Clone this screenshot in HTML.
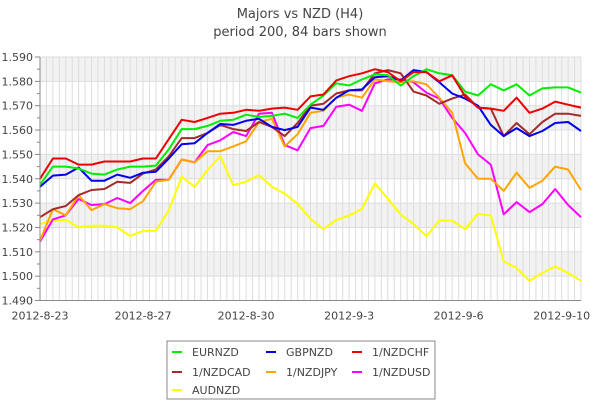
<!DOCTYPE html>
<html><head><meta charset="utf-8"><style>
body{margin:0;background:#fff;width:600px;height:400px;overflow:hidden}
svg text{font-family:"DejaVu Sans","Liberation Sans",sans-serif;fill:#444}
</style></head><body>
<svg id="chart" width="600" height="400" xmlns="http://www.w3.org/2000/svg">
<text x="300" y="18" text-anchor="middle" font-size="13">Majors vs NZD (H4)</text>
<text x="300" y="36" text-anchor="middle" font-size="13">period 200, 84 bars shown</text>
<g id="grid"></g>
<g id="series"></g>
<g id="axes"></g>
<g>
<rect x="167" y="341" width="268" height="58" fill="#fff" stroke="#888" stroke-width="1"/>
<g><rect x="172" y="351" width="10" height="2" fill="#00ee00"/><text x="192" y="356" font-size="11">EURNZD</text></g>
<g><rect x="266" y="351" width="10" height="2" fill="#0000ee"/><text x="286" y="356" font-size="11">GBPNZD</text></g>
<g><rect x="352" y="351" width="10" height="2" fill="#ee0000"/><text x="372" y="356" font-size="11">1/NZDCHF</text></g>
<g><rect x="172" y="371" width="10" height="2" fill="#a52a2a"/><text x="192" y="376" font-size="11">1/NZDCAD</text></g>
<g><rect x="266" y="371" width="10" height="2" fill="#ffa500"/><text x="286" y="376" font-size="11">1/NZDJPY</text></g>
<g><rect x="352" y="371" width="10" height="2" fill="#ff00ff"/><text x="372" y="376" font-size="11">1/NZDUSD</text></g>
<g><rect x="172" y="389" width="10" height="2" fill="#ffff00"/><text x="192" y="394" font-size="11">AUDNZD</text></g>
</g>
</svg>
<script>
const yTicks = [1.590,1.580,1.570,1.560,1.550,1.540,1.530,1.520,1.510,1.500,1.490];
const xTickLabels = ["2012-8-23","2012-8-27","2012-8-30","2012-9-3","2012-9-6","2012-9-10"];
const xTickBars = [0,16,32,48,65,81];
const totalBars = 84;
const barStep = 2;
const eurnzd = [1.5375,1.5450,1.5450,1.5442,1.5421,1.5417,1.5438,1.5450,1.5450,1.5454,1.5521,1.5604,1.5604,1.5617,1.5638,1.5642,1.5663,1.5654,1.5658,1.5667,1.5650,1.5704,1.5742,1.5792,1.5783,1.5808,1.5829,1.5825,1.5783,1.5821,1.5850,1.5833,1.5825,1.5758,1.5742,1.5788,1.5763,1.5788,1.5742,1.5771,1.5775,1.5775,1.5754];
const gbpnzd = [1.5367,1.5413,1.5417,1.5446,1.5392,1.5392,1.5417,1.5404,1.5425,1.5429,1.5483,1.5542,1.5546,1.5588,1.5625,1.5621,1.5638,1.5646,1.5613,1.5600,1.5613,1.5692,1.5683,1.5733,1.5763,1.5767,1.5817,1.5821,1.5804,1.5846,1.5838,1.5796,1.5750,1.5729,1.5700,1.5621,1.5575,1.5608,1.5575,1.5596,1.5629,1.5633,1.5596];
const nzdchf = [1.5400,1.5483,1.5483,1.5458,1.5458,1.5471,1.5471,1.5471,1.5483,1.5483,1.5563,1.5642,1.5633,1.5650,1.5667,1.5671,1.5683,1.5679,1.5688,1.5692,1.5683,1.5738,1.5746,1.5804,1.5821,1.5833,1.5850,1.5838,1.5800,1.5838,1.5838,1.5800,1.5825,1.5738,1.5692,1.5688,1.5679,1.5733,1.5671,1.5688,1.5717,1.5704,1.5692];
const nzdcad = [1.5242,1.5275,1.5288,1.5333,1.5354,1.5358,1.5388,1.5383,1.5421,1.5438,1.5492,1.5567,1.5567,1.5588,1.5621,1.5604,1.5596,1.5633,1.5613,1.5575,1.5629,1.5700,1.5708,1.5750,1.5763,1.5763,1.5833,1.5846,1.5833,1.5758,1.5742,1.5708,1.5729,1.5746,1.5692,1.5688,1.5575,1.5629,1.5583,1.5633,1.5667,1.5667,1.5658];
const nzdjpy = [1.5146,1.5275,1.5250,1.5333,1.5271,1.5296,1.5279,1.5275,1.5308,1.5388,1.5396,1.5479,1.5467,1.5513,1.5513,1.5533,1.5554,1.5633,1.5646,1.5533,1.5583,1.5671,1.5679,1.5733,1.5746,1.5733,1.5808,1.5800,1.5796,1.5800,1.5788,1.5733,1.5671,1.5463,1.5400,1.5400,1.5350,1.5425,1.5363,1.5392,1.5450,1.5438,1.5354];
const nzdusd = [1.5142,1.5233,1.5250,1.5317,1.5292,1.5296,1.5321,1.5300,1.5350,1.5396,1.5396,1.5479,1.5467,1.5538,1.5558,1.5592,1.5575,1.5667,1.5671,1.5538,1.5517,1.5608,1.5617,1.5696,1.5704,1.5679,1.5792,1.5808,1.5808,1.5796,1.5754,1.5729,1.5650,1.5588,1.5500,1.5458,1.5254,1.5304,1.5263,1.5296,1.5358,1.5292,1.5242];
const audnzd = [1.5214,1.5228,1.5232,1.5200,1.5207,1.5207,1.5200,1.5165,1.5186,1.5186,1.5270,1.5408,1.5367,1.5436,1.5492,1.5374,1.5388,1.5415,1.5367,1.5339,1.5297,1.5235,1.5193,1.5231,1.5249,1.5277,1.5381,1.5318,1.5253,1.5214,1.5165,1.5228,1.5228,1.5193,1.5256,1.5249,1.5061,1.5033,1.4981,1.5013,1.5040,1.5013,1.4981];

const L=40,R=581,T=57,B=300.5,ymax=1.590,ymin=1.490;
const xBar = b => L + b*(R-L)/totalBars;
const yVal = v => T + (ymax-v)/(ymax-ymin)*(B-T);
const NS='http://www.w3.org/2000/svg';
function mk(tag, attrs, parent){const e=document.createElementNS(NS,tag);for(const k in attrs)e.setAttribute(k,attrs[k]);parent.appendChild(e);return e;}
const grid=document.getElementById('grid'), axes=document.getElementById('axes'), ser=document.getElementById('series');
// bands
for(let i=0;i<yTicks.length-1;i++){
  if(i%2===0){const r=mk('rect',{x:L,y:yVal(yTicks[i]),width:R-L,height:yVal(yTicks[i+1])-yVal(yTicks[i]),fill:'#f2f2f2'},grid);
  
  }
}
for(let b=1;b<=totalBars;b++){
  const l=mk('line',{x1:xBar(b),x2:xBar(b),y1:T,y2:B,stroke:'#dddddd','stroke-width':1},grid);
  
  
}
yTicks.forEach(v=>{
  const l=mk('line',{x1:L,x2:R,y1:yVal(v),y2:yVal(v),stroke:'#dddddd','stroke-width':1},grid);
  
  
  const t=mk('line',{x1:L-5,x2:L,y1:yVal(v),y2:yVal(v),stroke:'#888'},axes);
  
  
  const tx=mk('text',{x:L-7,y:yVal(v)+4,'text-anchor':'end','font-size':11},axes);
  tx.textContent=v.toFixed(3);
  
  
});
for(let i=0;i<yTicks.length-1;i++){
  const m=mk('line',{x1:L-3,x2:L,y1:yVal((yTicks[i]+yTicks[i+1])/2),y2:yVal((yTicks[i]+yTicks[i+1])/2),stroke:'#888'},axes);
  
  
}
xTickLabels.forEach((s,i)=>{
  const tx=mk('text',{x:xBar(xTickBars[i]),y:B+19,'text-anchor':'middle','font-size':11},axes);
  tx.textContent=s;
  
  
});
const ya=mk('line',{x1:L,x2:L,y1:T,y2:B,stroke:'#888'},axes);


const xa=mk('line',{x1:L-5,x2:R,y1:B,y2:B,stroke:'#888'},axes);


const seriesList=[[audnzd,'#ffff00','audnzd'],[nzdusd,'#ff00ff','nzdusd'],[nzdjpy,'#ffa500','nzdjpy'],[nzdcad,'#a52a2a','nzdcad'],[gbpnzd,'#0000ee','gbpnzd'],[eurnzd,'#00ee00','eurnzd'],[nzdchf,'#ee0000','nzdchf']];
seriesList.forEach(([d,c,n])=>{
  const pts=d.map((v,k)=>xBar(k*barStep).toFixed(1)+','+yVal(v).toFixed(1)).join(' ');
  const p=mk('polyline',{points:pts,fill:'none',stroke:c,'stroke-width':2,'stroke-linejoin':'round'},ser);
  
  
});
</script>
</body></html>
